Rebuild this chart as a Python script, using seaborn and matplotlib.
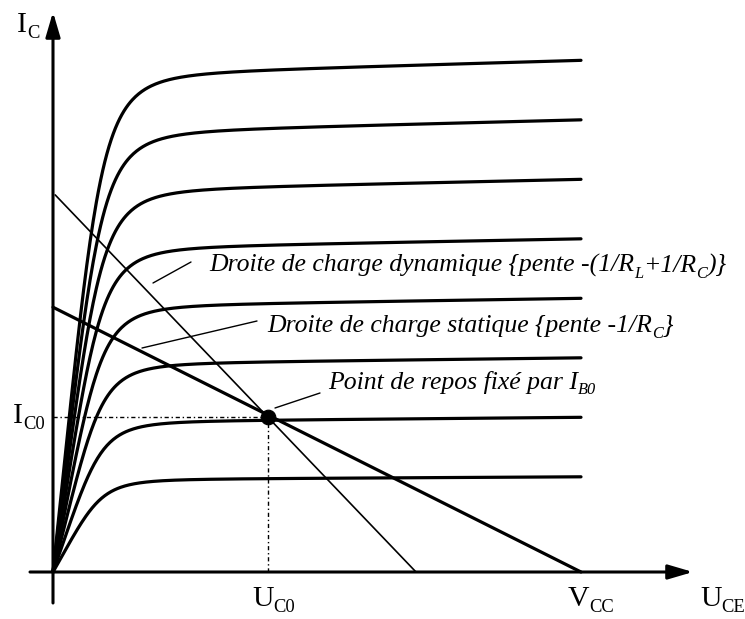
import numpy as np
import pandas as pd
import matplotlib
matplotlib.use("Agg")
import matplotlib.pyplot as plt
import seaborn as sns

# ---------------- data ----------------
# saturation currents of the I_C(U_CE) characteristics at U_CE = V_CC (arbitrary mA)
curve_levels = [1.6, 2.6, 3.6, 4.6, 5.6, 6.6, 7.6, 8.6]
knee_voltage = 1.18        # V, knee of the characteristics
early_drop = 0.03          # relative drop of plateau from V_CC back to 0
u_end = 12.0               # curves drawn up to here
V_CC = 12.0
static_intercept = 4.45    # I_C at U_CE=0 of static load line (V_CC/R_C)
dyn_start_u = 0.05
dyn_end_u = 8.25           # U_CE intercept of dynamic load line
U_C0 = 4.886
I_C0 = 2.60

# ---------------- geometry ----------------
W, H = 745, 619
PXX, PXY = 44.0, 59.5      # pixels per V, per mA
OX, OY = 53, 572           # origin in image pixels


def P(px, py):
    return ((px - OX) / PXX, (OY - py) / PXY)


sns.set_theme(style="white")
plt.rcParams["font.family"] = ["Liberation Serif", "DejaVu Serif"]

fig = plt.figure(figsize=(W / 100, H / 100), dpi=100)
ax = fig.add_axes([0, 0, 1, 1])
ax.set_xlim(-OX / PXX, (W - OX) / PXX)
ax.set_ylim(-(H - OY) / PXY, OY / PXY)
ax.axis("off")

# characteristic curves
u = np.linspace(0, u_end, 500)
rows = []
for k, L in enumerate(curve_levels):
    s = u / knee_voltage
    i = L * (1 - early_drop * (u_end - u) / u_end) * s / (1 + s ** 3.6) ** (1 / 3.6)
    rows.append(pd.DataFrame({"U": u, "I": i, "curve": k}))
df = pd.concat(rows, ignore_index=True)
sns.lineplot(data=df, x="U", y="I", units="curve", estimator=None, sort=False,
             color="black", lw=2.3, ax=ax, legend=False)

# load lines
static = pd.DataFrame({"U": [0, V_CC], "I": [static_intercept, 0]})
sns.lineplot(data=static, x="U", y="I", color="black", lw=2.3, ax=ax, sort=False)
slope = I_C0 / (dyn_end_u - U_C0)
dyn = pd.DataFrame({"U": [dyn_start_u, dyn_end_u],
                    "I": [I_C0 + slope * (U_C0 - dyn_start_u), 0]})
sns.lineplot(data=dyn, x="U", y="I", color="black", lw=1.2, ax=ax, sort=False)

# dotted projections
ax.plot([0, U_C0], [I_C0, I_C0], color="black", lw=1.0, ls=(0, (3, 2, 1, 2)))
ax.plot([U_C0, U_C0], [0, I_C0], color="black", lw=1.0, ls=(0, (3, 2, 1, 2)))

# operating point
sns.scatterplot(x=[U_C0], y=[I_C0], s=110, color="black", edgecolor="black", ax=ax, zorder=5)

# axes with arrows
arrow = dict(arrowstyle="-|>,head_length=0.75,head_width=0.22", lw=2.2, color="black",
             shrinkA=0, shrinkB=0, mutation_scale=20)
ax.annotate("", xy=P(693, OY), xytext=P(30, OY), arrowprops=arrow)
ax.annotate("", xy=P(OX, 12), xytext=P(OX, 603), arrowprops=arrow)

# leader lines
for (x1, y1), (x2, y2) in [((153, 283), (191, 262)), ((142, 348), (257, 321)),
                           ((275, 408), (320, 393))]:
    a, b = P(x1, y1)
    c, d = P(x2, y2)
    ax.plot([a, c], [b, d], color="black", lw=1.0)

renderer = fig.canvas.get_renderer()


def rich(x_px, y_base_px, pieces, fs, italic, sub_ratio, sub_off):
    cx = x_px
    for s, sub in pieces:
        size = fs * sub_ratio if sub else fs
        dy = sub_off if sub else 0
        t = fig.text(cx / W, (H - y_base_px - dy) / H, s, fontsize=size,
                     style="italic" if italic else "normal",
                     family="Liberation Serif", va="baseline", ha="left", color="black")
        bb = t.get_window_extent(renderer)
        cx = bb.x1


FS_I = 18.5
rich(209, 272, [("Droite de charge dynamique {pente -(1/R", 0), ("L", 1), ("+1/R", 0),
                ("C", 1), (")}", 0)], FS_I, True, 0.64, 6)
rich(267, 332, [("Droite de charge statique {pente -1/R", 0), ("C", 1), ("}", 0)],
     FS_I, True, 0.64, 6)
rich(328, 389, [("Point de repos fixé par I", 0), ("B0", 1)], FS_I, True, 0.64, 5)

FS_L = 21.5
rich(17, 32, [("I", 0), ("C", 1)], FS_L, False, 0.62, 6)
rich(13, 423, [("I", 0), ("C0", 1)], FS_L, False, 0.62, 6)
rich(252, 606, [("U", 0), ("C0", 1)], FS_L, False, 0.62, 6)
rich(568, 606, [("V", 0), ("CC", 1)], FS_L, False, 0.62, 6)
rich(700, 606, [("U", 0), ("CE", 1)], FS_L, False, 0.62, 6)

fig.savefig("out.png", dpi=100, facecolor="white")
